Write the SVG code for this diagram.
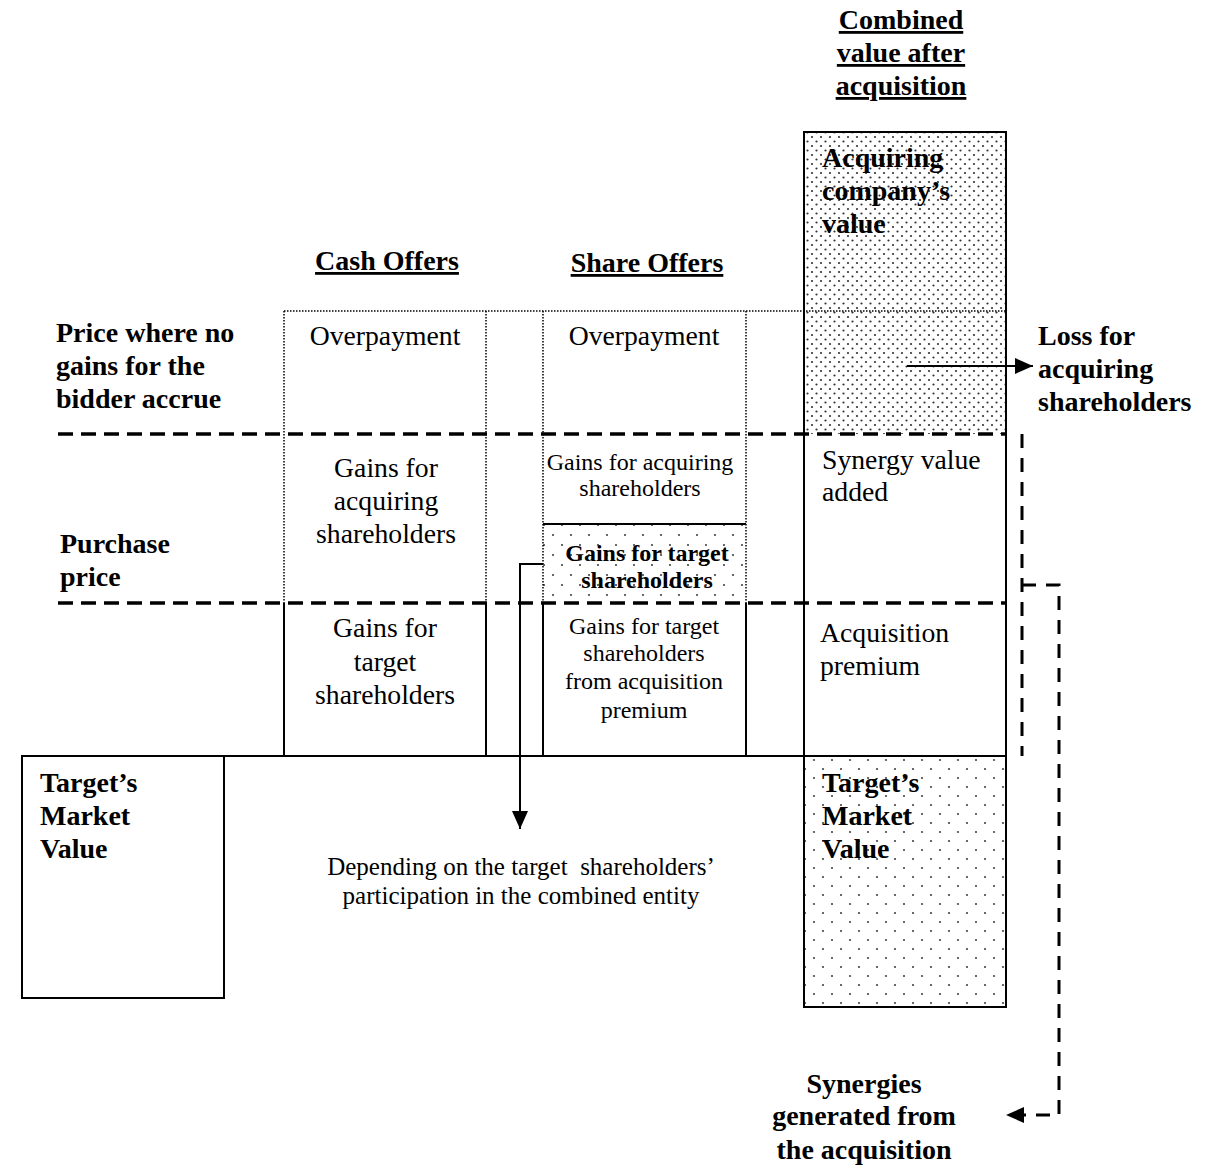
<svg xmlns="http://www.w3.org/2000/svg" width="1220" height="1166" viewBox="0 0 1220 1166">
<style>
.t{font-family:"Liberation Serif","Times New Roman",serif;fill:#000}
.b{font-weight:bold;font-size:28px}
.r{font-size:27.7px}
.s{font-size:24px}
.m{text-anchor:middle}
.u{text-decoration:underline}
.solid{stroke:#000;stroke-width:2;fill:none}
.dot{stroke:#000;stroke-width:1.5;stroke-dasharray:1.5 1.5;fill:none}
.dash{stroke:#000;stroke-width:3.5;stroke-dasharray:15 8;fill:none}
.dashv{stroke:#000;stroke-width:3;stroke-dasharray:14 10;fill:none}
</style>
<defs>
<pattern id="dense" width="9" height="9" patternUnits="userSpaceOnUse">
<circle cx="2" cy="2" r="1.1" fill="#333"/><circle cx="6.5" cy="6.5" r="1.1" fill="#333"/>
</pattern>
<pattern id="sparse" width="18" height="18" patternUnits="userSpaceOnUse">
<circle cx="4" cy="4" r="1.1" fill="#444"/><circle cx="13" cy="13" r="1.1" fill="#444"/>
</pattern>
<pattern id="mid" width="18" height="20" patternUnits="userSpaceOnUse">
<circle cx="4" cy="5" r="1.1" fill="#444"/><circle cx="13" cy="15" r="1.1" fill="#444"/>
</pattern>
<marker id="ahb" viewBox="0 0 18 16" markerWidth="18" markerHeight="16" refX="18" refY="8" orient="auto" markerUnits="userSpaceOnUse">
<path d="M0,0 L18,8 L0,16 Z" fill="#000"/>
</marker>
</defs>
<rect width="1220" height="1166" fill="#fff"/>

<g id="header-combined">
<text class="t b m u" x="901" y="29">Combined</text>
<text class="t b m u" x="901" y="62">value after</text>
<text class="t b m u" x="901" y="95">acquisition</text>
</g>
<g id="header-cash"><text class="t b m u" x="387" y="270">Cash Offers</text></g>
<g id="header-share"><text class="t b m u" x="647" y="272">Share Offers</text></g>

<g id="label-price-no-gains">
<text class="t b" x="56" y="342">Price where no</text>
<text class="t b" x="56" y="375">gains for the</text>
<text class="t b" x="56" y="408">bidder accrue</text>
</g>
<g id="label-purchase-price">
<text class="t b" x="60" y="553">Purchase</text>
<text class="t b" x="60" y="586">price</text>
</g>

<g id="combined-acquiring">
<rect x="804" y="132" width="202" height="302" fill="url(#dense)"/>
<text class="t b" x="822" y="167">Acquiring</text>
<text class="t b" x="822" y="200">company’s</text>
<text class="t b" x="822" y="233">value</text>
</g>
<g id="combined-synergy">
<text class="t r" x="822" y="469">Synergy value</text>
<text class="t r" x="822" y="501">added</text>
</g>
<g id="combined-premium">
<text class="t r" x="820" y="642">Acquisition</text>
<text class="t r" x="820" y="675">premium</text>
</g>
<g id="combined-target">
<rect x="804" y="756" width="202" height="251" fill="url(#sparse)"/>
<text class="t b" x="822" y="792">Target’s</text>
<text class="t b" x="822" y="825">Market</text>
<text class="t b" x="822" y="858">Value</text>
</g>
<rect class="solid" x="804" y="132" width="202" height="875"/>

<g id="cash-overpayment">
<path class="dot" d="M284,311 V603 M486,311 V603"/>
<text class="t r m" x="385" y="345">Overpayment</text>
</g>
<g id="cash-gains-acquiring">
<text class="t r m" x="386" y="477">Gains for</text>
<text class="t r m" x="386" y="510">acquiring</text>
<text class="t r m" x="386" y="543">shareholders</text>
</g>
<g id="cash-gains-target">
<path class="solid" d="M284,603 V756 M486,603 V756"/>
<text class="t r m" x="385" y="637">Gains for</text>
<text class="t r m" x="385" y="671">target</text>
<text class="t r m" x="385" y="704">shareholders</text>
</g>

<g id="share-overpayment">
<path class="dot" d="M543,311 V524 M746,311 V603"/>
<text class="t r m" x="644" y="345">Overpayment</text>
</g>
<g id="share-gains-acquiring">
<text class="t s m" x="640" y="470">Gains for acquiring</text>
<text class="t s m" x="640" y="496">shareholders</text>
</g>
<g id="share-gains-target">
<rect x="543" y="524" width="203" height="79" fill="url(#mid)"/>
<path class="solid" d="M543,524 H746"/>
<path class="dot" d="M543,524 V603"/>
<text class="t m" style="font-weight:bold;font-size:24px" x="647" y="561">Gains for target</text>
<text class="t m" style="font-weight:bold;font-size:24px" x="647" y="588">shareholders</text>
</g>
<g id="share-gains-premium">
<path class="solid" d="M543,603 V756 M746,603 V756"/>
<text class="t s m" x="644" y="634">Gains for target</text>
<text class="t s m" x="644" y="661">shareholders</text>
<text class="t s m" x="644" y="689">from acquisition</text>
<text class="t s m" x="644" y="718">premium</text>
</g>

<g id="target-market-value">
<rect class="solid" x="22" y="756" width="202" height="242"/>
<text class="t b" x="40" y="792">Target’s</text>
<text class="t b" x="40" y="825">Market</text>
<text class="t b" x="40" y="858">Value</text>
</g>

<g id="note-depending">
<text class="t m" style="font-size:25px" x="521" y="875" xml:space="preserve">Depending on the target  shareholders’</text>
<text class="t m" style="font-size:25px" x="521" y="904">participation in the combined entity</text>
</g>

<g id="label-loss">
<text class="t b" x="1038" y="345">Loss for</text>
<text class="t b" x="1038" y="378">acquiring</text>
<text class="t b" x="1038" y="411">shareholders</text>
</g>
<g id="label-synergies">
<text class="t b m" x="864" y="1093">Synergies</text>
<text class="t b m" x="864" y="1125">generated from</text>
<text class="t b m" x="864" y="1159">the acquisition</text>
</g>

<g id="connectors">
<path class="dot" d="M284,311 H1006" stroke-width="1.2"/>
<path class="dash" d="M58,434 H1006"/>
<path class="dash" d="M58,603 H1006"/>
<path class="solid" d="M22,756 H1006"/>
<path class="solid" d="M907,366 H1033" marker-end="url(#ahb)"/>
<path class="solid" d="M543,564 H520 V829" marker-end="url(#ahb)"/>
<path class="dashv" d="M1022,434 V756"/>
<path class="dashv" d="M1022,585 H1059 V1115 H1006" marker-end="url(#ahb)"/>
</g>
</svg>
